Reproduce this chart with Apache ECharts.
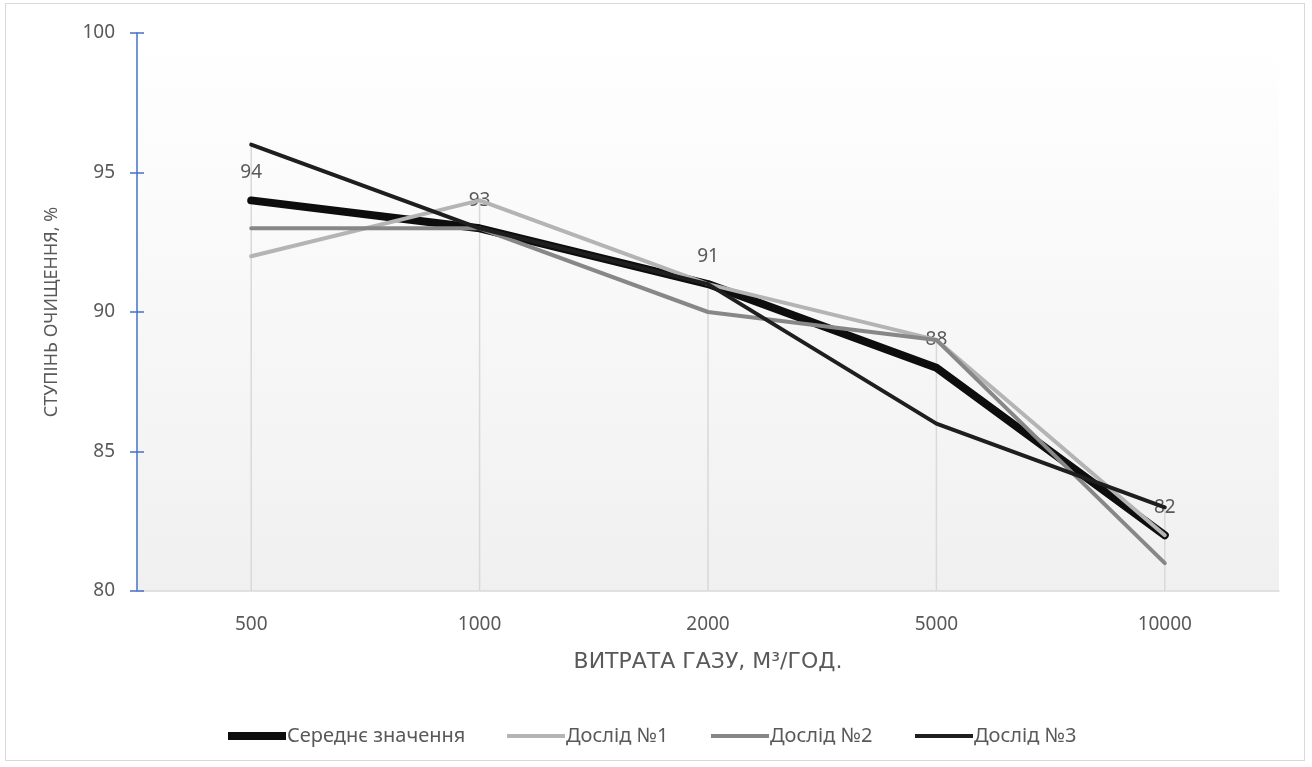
<!DOCTYPE html>
<html>
<head>
<meta charset="utf-8">
<script src="https://cdn.jsdelivr.net/npm/echarts@6/dist/echarts.min.js"></script>
<style>
  html, body { margin: 0; padding: 0; background: #fff; }
  #frame { position: absolute; left: 5px; top: 3px; width: 1300px; height: 758px; border: 1px solid #d9d9d9; box-sizing: border-box; }
  #chart { position: absolute; left: 0; top: 0; width: 1312px; height: 767px; }
</style>
</head>
<body>
<div id="frame"></div>
<div id="chart"></div>
<script>
// Gas flow rate, m3/h
const categories = ['500', '1000', '2000', '5000', '10000'];
// Cleaning efficiency, %
const meanValues = [94, 93, 91, 88, 82];
const trial1 = [92, 94, 91, 89, 82];
const trial2 = [93, 93, 90, 89, 81];
const trial3 = [96, 93, 91, 86, 83];
const yTicks = [80, 85, 90, 95, 100];

const seriesNames = ['Середнє значення', 'Дослід №1', 'Дослід №2', 'Дослід №3'];
const seriesColors = ['#0d0d0d', '#b4b4b4', '#878787', '#1e1e1e'];
const seriesWidths = [8, 4, 4, 4];
const legendLefts = [223, 502, 706, 910];

const FONT = 'Noto Sans';
const TEXT = '#595959';
const yMin = yTicks[0], yMax = yTicks[yTicks.length - 1];

// top of each vertical drop line = highest value at that category
const dropTops = categories.map((c, i) => Math.max(meanValues[i], trial1[i], trial2[i], trial3[i]));

const chart = echarts.init(document.getElementById('chart'), null, { renderer: 'canvas' });

function lineSeries(idx, data, extra) {
  const color = seriesColors[idx];
  return Object.assign({
    name: seriesNames[idx],
    type: 'line',
    data: data,
    symbol: 'circle',
    symbolSize: 1,
    showSymbol: true,
    lineStyle: { color: color, width: seriesWidths[idx], cap: 'round', join: 'round' },
    itemStyle: { color: color },
    emphasis: { disabled: true },
    animation: false
  }, extra || {});
}

// one legend block per series, each drawn as a plain stroke of the series width
const legends = seriesNames.map((name, i) => ({
  left: legendLefts[i],
  top: 721,
  itemWidth: 58,
  itemHeight: 14,
  symbolKeepAspect: true,
  selectedMode: false,
  textStyle: { fontFamily: FONT, fontSize: 20, color: TEXT, padding: [0, 0, 0, -4] },
  data: [{
    name: name,
    icon: 'path://M0,0 L58,0 L58,' + seriesWidths[i] + ' L0,' + seriesWidths[i] + ' Z',
    itemStyle: { color: seriesColors[i] }
  }]
}));

chart.setOption({
  animation: false,
  grid: {
    left: 137, right: 33, top: 33, bottom: 176,
    show: true,
    borderWidth: 0,
    backgroundColor: new echarts.graphic.LinearGradient(0, 0, 0, 1, [
      { offset: 0, color: '#ffffff' },
      { offset: 1, color: '#f0f0f0' }
    ])
  },
  legend: legends,
  xAxis: {
    type: 'category',
    data: categories,
    boundaryGap: true,
    name: 'ВИТРАТА ГАЗУ, М³/ГОД.',
    nameLocation: 'middle',
    nameGap: 60,
    nameTextStyle: { fontFamily: 'DejaVu Sans', fontSize: 22, color: TEXT },
    axisLine: { lineStyle: { color: '#d9d9d9', width: 1.5 } },
    axisTick: { show: false },
    axisLabel: { fontFamily: FONT, fontSize: 19, color: TEXT, margin: 24 },
    splitLine: { show: false }
  },
  yAxis: [{
    type: 'value',
    min: yMin, max: yMax, interval: 5,
    name: 'СТУПІНЬ ОЧИЩЕННЯ, %',
    nameLocation: 'middle',
    nameGap: 76,
    nameTextStyle: { fontFamily: FONT, fontSize: 18, color: TEXT },
    axisLine: { show: true, lineStyle: { color: '#4472c4', width: 1.5 } },
    axisTick: { show: true, inside: false, length: 7, lineStyle: { color: '#4472c4', width: 1.5 } },
    axisLabel: { fontFamily: FONT, fontSize: 19, color: TEXT, margin: 22 },
    splitLine: { show: false }
  }, {
    type: 'value',
    position: 'left',
    min: yMin, max: yMax, interval: 5,
    axisLine: { show: false },
    axisTick: { show: true, inside: true, length: 7, lineStyle: { color: '#4472c4', width: 1.5 } },
    axisLabel: { show: false },
    splitLine: { show: false }
  }],
  series: [
    {
      type: 'custom',
      name: 'drop',
      data: dropTops.map((v, i) => [i, v]),
      silent: true,
      animation: false,
      z: 1,
      renderItem: function (params, api) {
        const top = api.coord([api.value(0), api.value(1)]);
        const bottom = api.coord([api.value(0), yMin]);
        return {
          type: 'line',
          shape: { x1: top[0], y1: top[1], x2: bottom[0], y2: bottom[1] },
          style: { stroke: '#d9d9d9', lineWidth: 1.5 }
        };
      }
    },
    lineSeries(0, meanValues, {
      z: 2,
      label: {
        show: true,
        position: 'top',
        distance: 18,
        fontFamily: FONT,
        fontSize: 19,
        color: TEXT
      }
    }),
    lineSeries(1, trial1, { z: 3 }),
    lineSeries(2, trial2, { z: 4 }),
    lineSeries(3, trial3, { z: 5 })
  ]
});
</script>
</body>
</html>
